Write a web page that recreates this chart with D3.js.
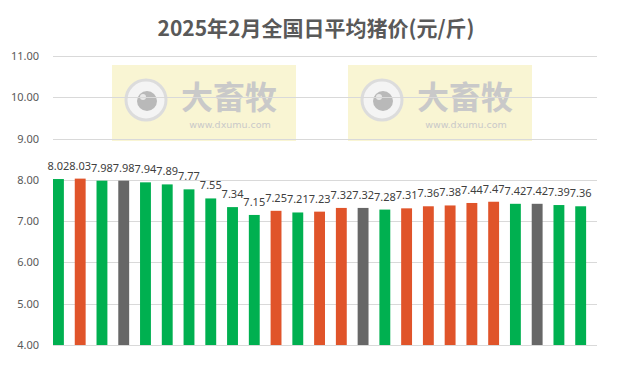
<!DOCTYPE html>
<html>
<head>
<meta charset="utf-8">
<script src="https://cdn.jsdelivr.net/npm/d3@7/dist/d3.min.js"></script>
<style>
  body { margin: 0; background: #fff; }
  svg { display: block; }
</style>
</head>
<body>
<svg width="621" height="366"></svg>
<script>
// 2025年2月 每日均价 (元/斤)
const days = d3.range(1, 26).map(d => "2月" + d + "日");
const prices = [8.02, 8.03, 7.98, 7.98, 7.94, 7.89, 7.77, 7.55, 7.34, 7.15,
                7.25, 7.21, 7.23, 7.32, 7.32, 7.28, 7.31, 7.36, 7.38, 7.44,
                7.47, 7.42, 7.42, 7.39, 7.36];
// up / down / flat against the day before
const trend = ["down", "up", "down", "flat", "down", "down", "down", "down", "down", "down",
               "up", "down", "up", "up", "flat", "down", "up", "up", "up", "up",
               "up", "down", "flat", "down", "down"];
const yTicks = [4, 5, 6, 7, 8, 9, 10, 11];
const title = "2025年2月全国日平均猪价(元/斤)";

const trendColor = { up: "#e0542a", down: "#00b050", flat: "#676767" };

const svg = d3.select("svg"),
    width = +svg.attr("width"),
    height = +svg.attr("height");

const margin = { top: 56, right: 24, bottom: 21, left: 53 };

const x = d3.scaleBand()
    .domain(days)
    .range([margin.left, width - margin.right])
    .padding(0);

const y = d3.scaleLinear()
    .domain([4, 11])
    .range([height - margin.bottom, margin.top]);

// watermarks (drawn first, behind the grid)
function watermark(x0) {
    const g = svg.append("g").attr("transform", "translate(" + x0 + ",65)");
    g.append("rect")
        .attr("width", 184).attr("height", 76)
        .attr("fill", "#f7f1c4").attr("opacity", 0.75);
    g.append("circle").attr("cx", 34).attr("cy", 35).attr("r", 20)
        .attr("fill", "#f4f4f4").attr("stroke", "#dcdcdc").attr("stroke-width", 3);
    g.append("circle").attr("cx", 35).attr("cy", 36).attr("r", 10)
        .attr("fill", "#b9b9b9");
    g.append("circle").attr("cx", 31).attr("cy", 32).attr("r", 3)
        .attr("fill", "#e8e8e8");
    g.append("text")
        .attr("x", 117).attr("y", 44)
        .attr("text-anchor", "middle")
        .style("font-family", "'Noto Sans CJK SC'")
        .style("font-weight", "bold")
        .style("font-size", "32px")
        .attr("fill", "#c9c9c9")
        .text("大畜牧");
    g.append("text")
        .attr("x", 118).attr("y", 63)
        .attr("text-anchor", "middle")
        .style("font-family", "'DejaVu Sans'")
        .style("font-size", "9.5px")
        .attr("fill", "#c9c9c9")
        .text("www.dxumu.com");
}
watermark(112);
watermark(348);

// grid
svg.append("g")
    .selectAll("line")
    .data(yTicks)
    .enter()
    .append("line")
        .attr("x1", margin.left)
        .attr("x2", width - margin.right)
        .attr("y1", d => Math.round(y(d)) + 0.5)
        .attr("y2", d => Math.round(y(d)) + 0.5)
        .attr("stroke", "#d9d9d9")
        .attr("stroke-width", 1);

// y axis labels
const yAxis = d3.axisLeft(y)
    .tickValues(yTicks)
    .tickFormat(d3.format(".2f"))
    .tickSize(0)
    .tickPadding(14);
const yg = svg.append("g")
    .attr("transform", "translate(" + margin.left + ",0)")
    .call(yAxis);
yg.select(".domain").remove();
yg.selectAll("text")
    .style("font-family", "'Noto Sans', sans-serif")
    .style("font-size", "11px")
    .attr("fill", "#595959");

// bars, sitting at the left of each band
const barW = x.bandwidth() * 0.5;
svg.append("g")
    .selectAll("rect")
    .data(prices)
    .enter()
    .append("rect")
        .attr("x", (d, i) => x(days[i]))
        .attr("y", d => y(d))
        .attr("width", barW)
        .attr("height", d => y(4) - y(d))
        .attr("fill", (d, i) => trendColor[trend[i]]);

// value labels
svg.append("g")
    .selectAll("text")
    .data(prices)
    .enter()
    .append("text")
        .attr("x", (d, i) => x(days[i]) + barW / 2)
        .attr("y", d => y(d) - 9)
        .attr("text-anchor", "middle")
        .style("font-family", "'Noto Sans', sans-serif")
        .style("font-size", "11px")
        .attr("fill", "#404040")
        .text(d => d3.format(".2f")(d));

// title
svg.append("text")
    .attr("x", 316)
    .attr("y", 36)
    .attr("text-anchor", "middle")
    .style("font-family", "'Noto Sans CJK SC'")
    .style("font-weight", "bold")
    .style("font-size", "21px")
    .attr("fill", "#595959")
    .text(title);
</script>
</body>
</html>
